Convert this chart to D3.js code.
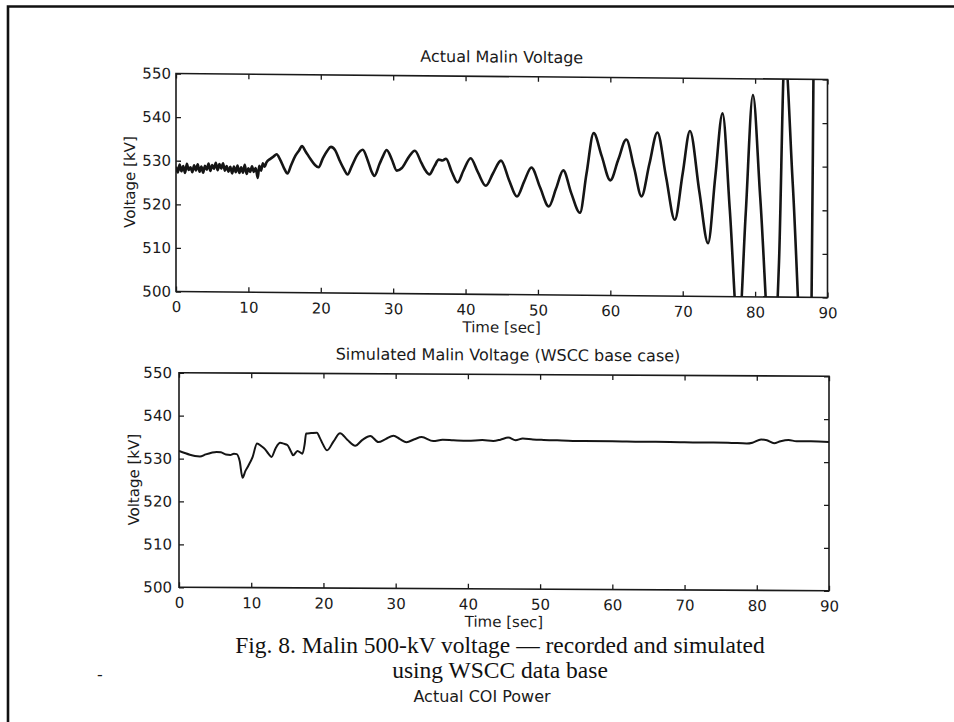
<!DOCTYPE html>
<html>
<head>
<meta charset="utf-8">
<script src="https://cdn.jsdelivr.net/npm/d3@7"></script>
<style>
  body { margin: 0; background: #fff; }
  svg { display: block; background: #fff; }
  .tick text { font-family: "DejaVu Sans", sans-serif; font-size: 15px; fill: #1a1a1a; }
  .tick line { stroke: #1a1a1a; stroke-width: 1.3; }
  .frame { fill: none; stroke: #1a1a1a; stroke-width: 1.6; }
  .label { font-family: "DejaVu Sans", sans-serif; font-size: 15px; fill: #1a1a1a; }
  .title { font-family: "DejaVu Sans", sans-serif; font-size: 16px; fill: #1a1a1a; }
  .caption { font-family: "Liberation Serif", serif; font-size: 23.5px; fill: #111; }
  .trace { fill: none; stroke: #151515; stroke-linejoin: round; }
</style>
</head>
<body>
<svg width="954" height="722"></svg>
<script>
const timeTicks = [0, 10, 20, 30, 40, 50, 60, 70, 80, 90];
const voltTicks = [500, 510, 520, 530, 540, 550];

// recorded voltage [sec, kV]
const actual = [
  [0, 528.6], [0.25, 527.3], [0.5, 529.1], [0.75, 527.6], [1, 528.8], [1.25, 527.2],
  [1.5, 529.3], [1.75, 527.9], [2, 528.5], [2.25, 527.4], [2.5, 529.0], [2.75, 527.8],
  [3, 529.2], [3.25, 527.5], [3.5, 528.7], [3.75, 527.3], [4, 528.9], [4.25, 528.0],
  [4.5, 529.4], [4.75, 527.7], [5, 529.1], [5.25, 528.2], [5.5, 529.6], [5.75, 527.9],
  [6, 529.3], [6.25, 528.3], [6.5, 529.5], [6.75, 527.8], [7, 528.9], [7.25, 527.6],
  [7.5, 528.7], [7.75, 527.2], [8, 528.8], [8.25, 527.5], [8.5, 529.0], [8.75, 527.3],
  [9, 528.6], [9.25, 527.4], [9.5, 529.2], [9.75, 527.1], [10, 528.4], [10.25, 527.6],
  [10.5, 528.9], [10.75, 527.6], [11, 528.5], [11.3, 526.2], [11.5, 529.0], [11.75, 527.9],
  [12, 529.6], [12.25, 528.8],
  [12.5, 529.8], [13.0, 530.6], [13.5, 531.2], [13.9, 531.7], [14.4, 530.4], [14.9, 528.6],
  [15.4, 527.3], [15.9, 529.2], [16.5, 531.4], [17.0, 532.6], [17.4, 533.6], [17.9, 532.4],
  [18.6, 530.6], [19.2, 529.3], [19.7, 528.8], [20.3, 530.9], [20.9, 532.6], [21.4, 533.5],
  [22.0, 532.7], [22.6, 530.4], [23.2, 528.4], [23.7, 527.2], [24.3, 529.2], [25.0, 531.6],
  [25.8, 532.9], [26.5, 530.4], [27.0, 528.0], [27.4, 526.9], [28.1, 529.6], [28.6, 531.5],
  [29.1, 532.9], [29.8, 530.8], [30.5, 528.2], [31.2, 528.8], [32.1, 531.2], [33.0, 532.8],
  [33.9, 530.0], [34.5, 528.2], [35.0, 527.4], [35.7, 529.3], [36.3, 530.8], [36.8, 530.6],
  [37.3, 531.0], [38.1, 528.0], [38.9, 525.6], [39.7, 528.3], [40.7, 531.2], [41.7, 528.0],
  [42.8, 524.9], [43.8, 527.8], [44.9, 530.7], [46.0, 526.3], [47.1, 522.5], [48.1, 526.0],
  [49.1, 529.2], [50.3, 524.6], [51.5, 520.3], [52.5, 524.4], [53.5, 528.6], [54.6, 523.4],
  [55.8, 518.9], [56.7, 527.8], [57.7, 537.2], [58.8, 532.0], [60.0, 526.4], [61.1, 531.2],
  [62.2, 535.8], [63.3, 529.2], [64.3, 522.8], [65.4, 530.3], [66.5, 537.5], [67.7, 527.3],
  [68.9, 517.5], [70.0, 528.2], [71.0, 537.9], [72.3, 524.0], [73.5, 512.2], [74.5, 527.5],
  [75.5, 542.0], [76.5, 520.0], [77.7, 491.0], [78.7, 519.0], [79.7, 546.3], [80.7, 523.0],
  [82.4, 481.0], [83.3, 508.0], [84.1, 556.0], [85.2, 526.0], [86.9, 475.0], [87.8, 500.0],
  [88.1, 560.0], [88.4, 600.0], [90, 600.0]
];

// simulated voltage, WSCC base case [sec, kV]
const simulated = [
  [0, 531.8], [0.8, 531.3], [1.5, 530.9], [2.2, 530.6], [2.9, 530.5], [3.7, 531.0],
  [4.5, 531.4], [5.2, 531.6], [5.8, 531.5], [6.5, 531.0], [7.1, 530.9], [7.6, 531.2],
  [8.0, 531.1], [8.4, 529.5], [8.8, 525.6], [9.2, 527.2], [9.6, 528.4], [10.2, 530.5],
  [10.8, 533.6], [11.4, 533.0], [11.9, 532.3], [12.4, 531.2], [12.8, 530.5], [13.4, 532.6],
  [14.0, 533.8], [14.5, 533.6], [15.0, 533.3], [15.5, 531.8], [15.8, 530.9], [16.4, 531.9],
  [17.1, 531.3], [17.4, 533.5], [17.6, 536.0], [18.3, 536.1], [19.1, 536.2], [19.5, 535.0],
  [19.9, 533.6], [20.5, 532.1], [21.4, 534.2], [22.3, 536.1], [23.3, 534.6], [24.4, 533.2],
  [25.4, 534.6], [26.5, 535.5], [27.6, 534.1], [28.6, 534.8], [29.7, 535.6], [30.6, 534.8],
  [31.5, 534.1], [32.6, 534.8], [33.6, 535.3], [35.2, 534.4], [36.5, 534.7], [38.0, 534.6],
  [40.0, 534.5], [42.0, 534.7], [43.5, 534.5], [44.5, 534.8], [45.6, 535.3], [46.6, 534.7],
  [47.6, 535.1], [49.0, 534.9], [50.5, 534.8], [53.0, 534.7], [56.0, 534.6], [60.0, 534.6],
  [64.0, 534.5], [68.0, 534.5], [72.0, 534.4], [76.0, 534.4], [78.6, 534.2], [79.4, 534.4],
  [80.6, 535.2], [81.4, 535.0], [82.4, 534.3], [83.3, 534.8], [84.4, 535.1], [85.5, 534.8],
  [87.5, 534.8], [90.0, 534.7]
];

const captionLines = [
  "Fig. 8. Malin 500-kV voltage \u2014 recorded and simulated",
  "using WSCC data base"
];

const svg = d3.select("svg");

// scanned page border (top and left only)
svg.append("path")
  .attr("d", "M8,722 V6.5 H954")
  .attr("fill", "none")
  .attr("stroke", "#111")
  .attr("stroke-width", 2.6);

const drawPanel = (p, idx) => {
  const w = p.width, h = p.height;

  const x = d3.scaleLinear().domain([0, 90]).range([0, w]);
  const y = d3.scaleLinear().domain([500, 550]).range([h, 0]);

  // the scan is slightly tilted, skew the whole panel a bit
  const g = svg.append("g")
      .attr("transform", `translate(${p.left + w / 2},${p.top + h / 2}) skewY(${p.skew}) translate(${-w / 2},${-h / 2})`);

  g.append("clipPath")
      .attr("id", `clip${idx}`)
    .append("rect")
      .attr("width", w)
      .attr("height", h);

  const noDomain = (sel) => sel.select(".domain").remove();

  g.append("g")
      .attr("transform", `translate(0,${h})`)
      .call(d3.axisBottom(x).tickValues(timeTicks).tickSizeInner(-5).tickSizeOuter(0).tickPadding(10))
      .call(noDomain);

  g.append("g")
      .call(d3.axisTop(x).tickValues(timeTicks).tickSizeInner(-5).tickSizeOuter(0).tickFormat(""))
      .call(noDomain);

  g.append("g")
      .call(d3.axisLeft(y).tickValues(voltTicks).tickSizeInner(-5).tickSizeOuter(0).tickPadding(p.yPad))
      .call(noDomain);

  g.append("g")
      .attr("transform", `translate(${w},0)`)
      .call(d3.axisRight(y).tickValues(voltTicks).tickSizeInner(-5).tickSizeOuter(0).tickFormat(""))
      .call(noDomain);

  g.append("rect")
      .attr("class", "frame")
      .attr("width", w)
      .attr("height", h);

  const line = d3.line()
    .x(d => x(d[0]))
    .y(d => y(d[1]))
    .curve(d3.curveMonotoneX);

  g.append("path")
      .datum(p.data)
      .attr("class", "trace")
      .attr("clip-path", `url(#clip${idx})`)
      .attr("stroke-width", p.lineWidth)
      .attr("d", line);

  g.append("text")
      .attr("class", "title")
      .attr("x", w / 2 + p.titleShift)
      .attr("y", -14)
      .attr("text-anchor", "middle")
      .text(p.title);

  g.append("text")
      .attr("class", "label")
      .attr("x", w / 2)
      .attr("y", h + 38)
      .attr("text-anchor", "middle")
      .text("Time [sec]");

  g.append("text")
      .attr("class", "label")
      .attr("transform", `translate(${p.yLabelX},${h / 2}) rotate(-90)`)
      .attr("text-anchor", "middle")
      .text("Voltage [kV]");
};

const panels = [
  { title: "Actual Malin Voltage", data: actual, left: 176, top: 76.5, width: 651.5, height: 218,
    skew: 0.53, yPad: 5, yLabelX: -41, titleShift: 0, lineWidth: 2.6 },
  { title: "Simulated Malin Voltage (WSCC base case)", data: simulated, left: 179, top: 374.5, width: 650, height: 214.5,
    skew: 0.31, yPad: 7, yLabelX: -40.5, titleShift: 4, lineWidth: 2 }
];

panels.forEach(drawPanel);

svg.selectAll("text.caption")
  .data(captionLines)
  .enter().append("text")
    .attr("class", "caption")
    .attr("x", 500)
    .attr("y", (d, i) => 653 + i * 25)
    .attr("text-anchor", "middle")
    .text(d => d);

svg.append("text")
    .attr("class", "title")
    .attr("x", 482)
    .attr("y", 702)
    .attr("text-anchor", "middle")
    .text("Actual COI Power");

svg.append("text")
    .attr("class", "title")
    .attr("x", 100)
    .attr("y", 680)
    .attr("text-anchor", "middle")
    .text("-");
</script>
</body>
</html>
